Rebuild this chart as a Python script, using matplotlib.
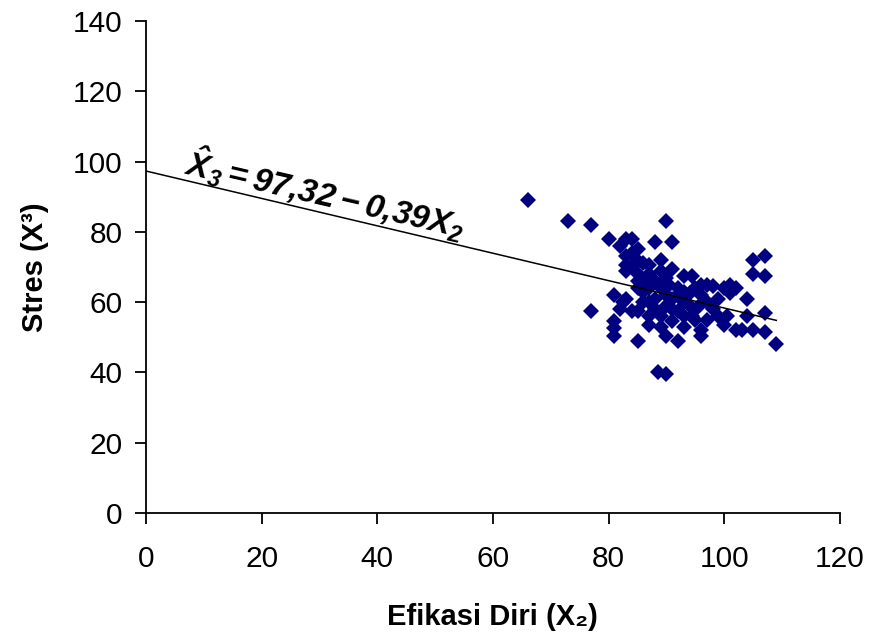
import matplotlib.pyplot as plt

plt.rcParams['font.family'] = ['Liberation Sans', 'DejaVu Sans']
plt.rcParams['mathtext.fontset'] = 'custom'
plt.rcParams['mathtext.rm'] = 'Liberation Sans:bold:italic'
plt.rcParams['mathtext.it'] = 'Liberation Sans:bold:italic'
plt.rcParams['mathtext.bf'] = 'Liberation Sans:bold:italic'

# efikasi diri (X2) vs stres (X3), one point per respondent
efikasi = [66, 73, 77, 80, 83, 84, 82, 85, 88, 83, 83, 83, 84.5, 87, 85, 86.5,
           81, 82.5, 83, 77, 84, 85, 81, 81, 81, 85, 87, 87, 88.5, 90,
           90, 91, 89, 91, 93, 94.5, 105, 107, 105, 107, 97, 98, 100, 101,
           101, 104, 94, 96, 99, 100.5, 100, 102, 103, 105, 107, 107, 104, 109,
           96, 96, 90, 92, 88, 90, 92, 93, 94.5, 95.5, 91, 89, 90.5, 92, 89,
           93, 87, 88, 86, 85, 84, 86, 89, 90, 88, 89, 90, 91, 92, 94, 95,
           96, 97, 98, 99, 102, 86, 87, 93, 95, 97, 82, 84, 85, 91, 93, 87]
stres = [89, 83, 82, 78, 78, 78, 76, 75, 77, 73, 70.5, 69, 72.5, 70.5, 66, 66,
         62, 60, 61, 57.5, 57.5, 57.5, 54.5, 52.5, 50.5, 49, 53.5, 60, 40, 39.5,
         83, 77, 72, 69.5, 67.5, 67.5, 72, 73, 68, 67.5, 65, 64.5, 64, 65,
         62.5, 61, 62.5, 62, 56, 56, 53.5, 52, 52, 52, 51.5, 57, 56, 48,
         52, 50.5, 50.5, 49, 61, 59, 57.5, 56, 56, 58.5, 54.5, 56, 65, 64, 64,
         60, 68, 66, 63, 64, 70, 71, 69, 67, 58, 53, 62, 61, 62, 59, 64,
         65, 60, 58, 61, 64, 60, 56, 53, 55, 55, 58, 74, 68, 58, 63, 64]

intercept = 97.32
slope = -0.39
x_line = [0, 109]
y_line = [intercept + slope * v for v in x_line]

fig = plt.figure(figsize=(8.74, 6.38), dpi=100)
ax = fig.add_axes([0.167, 0.196, 0.794, 0.771])

ax.plot(efikasi, stres, linestyle='none', marker='D', markersize=8,
        color='#000080', markeredgewidth=0)
ax.plot(x_line, y_line, color='black', linewidth=1.1)

ax.set_xlim(0, 120)
ax.set_ylim(0, 140)
ax.set_xticks(range(0, 121, 20))
ax.set_yticks(range(0, 141, 20))
ax.spines['top'].set_visible(False)
ax.spines['right'].set_visible(False)
ax.spines['left'].set_linewidth(1.3)
ax.spines['bottom'].set_linewidth(1.3)
ax.tick_params(direction='out', length=8, width=1.3, labelsize=21.5)
ax.tick_params(axis='x', pad=15)
ax.tick_params(axis='y', pad=9)

ax.set_xlabel('Efikasi Diri (X₂)', fontsize=21, fontweight='bold', labelpad=22)
ax.set_ylabel('Stres (X³)', fontsize=21, fontweight='bold', labelpad=17)

ax.text(31, 91, r'$\hat{X}_3 = 97{,}32 - 0{,}39X_2$', fontsize=24,
        rotation=-13, rotation_mode='anchor', ha='center', va='center')

fig.savefig('out.png', dpi=100)
